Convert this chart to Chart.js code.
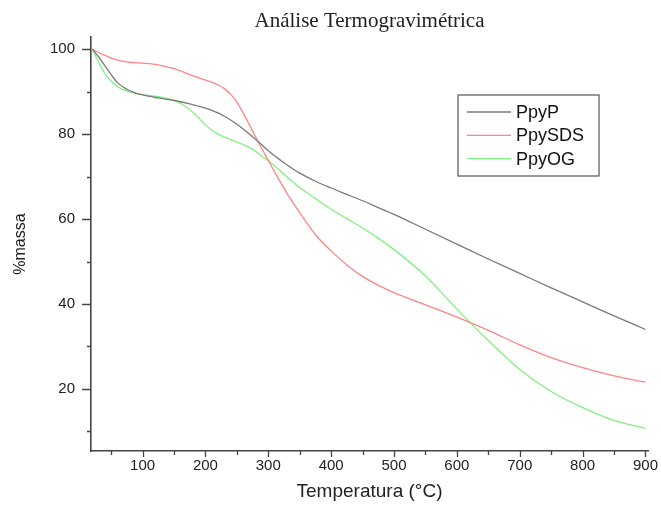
<!DOCTYPE html>
<html>
<head>
<meta charset="utf-8">
<script src="https://cdn.jsdelivr.net/npm/chart.js@4"></script>
<style>
  html, body { margin: 0; padding: 0; background: #fff; }
  #wrap { width: 661px; height: 506px; }
</style>
</head>
<body>
<div id="wrap"><canvas id="tga"></canvas></div>
<script>
// temperatures (°C) shared by all three curves
const temps = [20, 30, 40, 50, 60, 70, 80, 90, 100, 125, 150, 175, 200, 210, 220, 230, 240, 250, 260, 270, 280, 290,
               300, 310, 320, 330, 340, 350, 375, 400, 425, 450, 475, 500, 550, 600, 650, 700, 750, 800, 850, 900];

// % massa
const ppyP   = [100, 98.2, 96.1, 94.0, 92.1, 91.0, 90.2, 89.6, 89.2, 88.5, 87.9, 87.1, 86.1, 85.6, 85.0, 84.2, 83.3, 82.3, 81.2, 80.0, 78.7, 77.4,
                76.1, 74.9, 73.8, 72.7, 71.7, 70.8, 68.9, 67.3, 65.8, 64.3, 62.7, 61.1, 57.6, 54.1, 50.6, 47.2, 43.8, 40.5, 37.2, 34.0];
const ppySDS = [100, 99.2, 98.5, 97.9, 97.4, 97.1, 96.9, 96.8, 96.7, 96.3, 95.4, 94.0, 92.7, 92.2, 91.6, 90.7, 89.4, 87.5, 85.0, 82.2, 79.3, 76.5,
                73.8, 71.1, 68.5, 66.0, 63.7, 61.5, 56.3, 52.5, 49.2, 46.5, 44.4, 42.7, 39.8, 36.9, 33.8, 30.4, 27.4, 25.0, 23.1, 21.6];
const ppyOG  = [100, 96.9, 94.3, 92.5, 91.2, 90.4, 89.9, 89.6, 89.3, 88.8, 88.0, 85.8, 82.2, 80.9, 80.0, 79.3, 78.7, 78.1, 77.5, 76.8, 75.9, 74.8,
                73.7, 72.5, 71.2, 69.9, 68.6, 67.4, 64.8, 62.3, 60.1, 57.9, 55.5, 52.8, 46.6, 38.8, 31.4, 24.6, 19.4, 15.6, 12.6, 10.7];

const seriesNames = ['PpyP', 'PpySDS', 'PpyOG'];
const xTicks = [50, 100, 150, 200, 250, 300, 350, 400, 450, 500, 550, 600, 650, 700, 750, 800, 850, 900];
const yTicks = [10, 20, 30, 40, 50, 60, 70, 80, 90, 100];

const colors = ['#7a7a7a', '#ff8585', '#80f080'];
const sansFont = '"Liberation Sans", Arial, sans-serif';
const toPoints = vals => temps.map((t, i) => ({ x: t, y: vals[i] }));

// Origin style ticks: long for labelled ones, short for the rest
const axisTicks = {
  id: 'axisTicks',
  afterDraw(chart) {
    const ctx = chart.ctx;
    const xs = chart.scales.x, ys = chart.scales.y;
    ctx.save();
    ctx.strokeStyle = '#444';
    ctx.lineWidth = 1.3;
    ctx.beginPath();
    xs.ticks.forEach(t => {
      const px = Math.round(xs.getPixelForValue(t.value)) + 0.5;
      const len = t.value % 100 === 0 ? 6 : 4;
      ctx.moveTo(px, xs.top);
      ctx.lineTo(px, xs.top + len);
    });
    ys.ticks.forEach(t => {
      const py = Math.round(ys.getPixelForValue(t.value)) + 0.5;
      const len = t.value % 20 === 0 ? 9 : 4;
      ctx.moveTo(ys.right, py);
      ctx.lineTo(ys.right - len, py);
    });
    ctx.stroke();
    ctx.restore();
  }
};

// legend box inside the plot, like the original
const boxLegend = {
  id: 'boxLegend',
  afterDatasetsDraw(chart) {
    const ctx = chart.ctx;
    const x0 = 458, y0 = 95, w = 141, h = 81;
    ctx.save();
    ctx.strokeStyle = '#555';
    ctx.lineWidth = 1.2;
    ctx.strokeRect(x0, y0, w, h);
    ctx.font = '18px ' + sansFont;
    ctx.textBaseline = 'middle';
    chart.data.datasets.forEach((ds, i) => {
      const y = y0 + 17 + i * 23.3;
      ctx.strokeStyle = ds.borderColor;
      ctx.lineWidth = 1.3;
      ctx.beginPath();
      ctx.moveTo(x0 + 9, y);
      ctx.lineTo(x0 + 53, y);
      ctx.stroke();
      ctx.fillStyle = '#111';
      ctx.fillText(ds.label, x0 + 58, y + 1);
    });
    ctx.restore();
  }
};

new Chart(document.getElementById('tga'), {
  type: 'line',
  data: {
    datasets: [ppyP, ppySDS, ppyOG].map((vals, i) => ({
      label: seriesNames[i],
      data: toPoints(vals),
      borderColor: colors[i],
      borderWidth: 1.3,
      pointRadius: 0,
      cubicInterpolationMode: 'monotone',
      fill: false
    }))
  },
  options: {
    responsive: true,
    maintainAspectRatio: false,
    animation: false,
    layout: { padding: { left: 0, right: 13, top: 0, bottom: 0 } },
    plugins: {
      legend: { display: false },
      tooltip: { enabled: false },
      title: {
        display: true,
        fullSize: false,
        text: 'Análise Termogravimétrica',
        color: '#222',
        font: { family: '"Liberation Serif", "Times New Roman", serif', size: 21, weight: 'normal' },
        padding: { top: 9, bottom: 3 }
      }
    },
    scales: {
      x: {
        type: 'linear',
        min: 18,
        max: 904,
        afterBuildTicks: s => { s.ticks = xTicks.map(v => ({ value: v })); },
        afterFit: s => { s.height = 55; },
        border: { color: '#444', width: 1.6 },
        grid: { drawOnChartArea: false, tickLength: 6, tickColor: 'rgba(0,0,0,0)' },
        ticks: {
          padding: 0,
          autoSkip: false,
          maxRotation: 0,
          color: '#222',
          font: { family: sansFont, size: 15 },
          callback: v => (v % 100 === 0 ? v : '')
        },
        title: {
          display: true,
          text: 'Temperatura (°C)',
          color: '#222',
          font: { family: sansFont, size: 19 },
          padding: { top: 0, bottom: 3 }
        }
      },
      y: {
        type: 'linear',
        min: 5.4,
        max: 102.8,
        afterBuildTicks: s => { s.ticks = yTicks.map(v => ({ value: v })); },
        afterFit: s => { s.width = 91; },
        border: { color: '#444', width: 1.6 },
        grid: { drawOnChartArea: false, tickLength: 9, tickColor: 'rgba(0,0,0,0)' },
        ticks: {
          padding: 7,
          color: '#222',
          font: { family: sansFont, size: 15 },
          callback: v => (v % 20 === 0 ? v : '')
        },
        title: {
          display: true,
          text: '%massa',
          color: '#222',
          font: { family: sansFont, size: 16 },
          padding: { top: 11, bottom: 0 }
        }
      }
    }
  },
  plugins: [axisTicks, boxLegend]
});
</script>
</body>
</html>
